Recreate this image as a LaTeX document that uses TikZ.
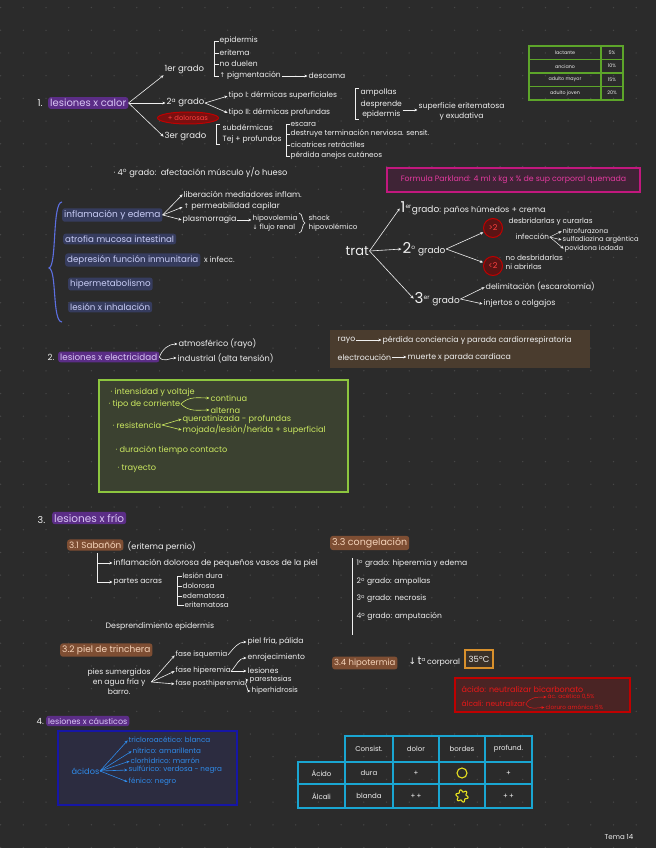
\documentclass[tikz,border=0pt]{standalone}
\usepackage{fontspec}
\setmainfont{Poppins}
\newfontfamily\symf{DejaVu Sans}
\usetikzlibrary{arrows.meta,shapes.geometric,calc}
\newcommand\fsz[1]{\fontsize{#1}{\fpeval{1.3*#1}}\selectfont}
\definecolor{bg}{HTML}{2B2B2B}
\definecolor{dotc}{HTML}{474747}
\definecolor{ink}{HTML}{F0F0F0}
\definecolor{hpfill}{HTML}{5B2D86}
\definecolor{hptext}{HTML}{D9C6F4}
\definecolor{hnfill}{HTML}{363C5E}
\definecolor{hntext}{HTML}{C9CDF6}
\definecolor{hbfill}{HTML}{7E4E33}
\definecolor{hbtext}{HTML}{F5D3B9}
\definecolor{braceblue}{HTML}{5C6FE0}
\definecolor{pkline}{HTML}{C2187E}
\definecolor{pkfill}{HTML}{3F2436}
\definecolor{pktext}{HTML}{E43AA0}
\definecolor{rline}{HTML}{C00000}
\definecolor{rfill}{HTML}{4A2424}
\definecolor{rtext}{HTML}{E81818}
\definecolor{elfill}{HTML}{7A1010}
\definecolor{eltext}{HTML}{FF4040}
\definecolor{cfill}{HTML}{5A1414}
\definecolor{brbox}{HTML}{4A3C2E}
\definecolor{gline}{HTML}{8DC63F}
\definecolor{gfill}{HTML}{3B4130}
\definecolor{gtext}{HTML}{CBE860}
\definecolor{tline}{HTML}{5DA52A}
\definecolor{bline}{HTML}{1616A6}
\definecolor{bfill}{HTML}{2C2C40}
\definecolor{btext}{HTML}{2F8BEA}
\definecolor{cyanl}{HTML}{1AA6D2}
\definecolor{yel}{HTML}{E6E020}
\definecolor{orl}{HTML}{D8902C}
\definecolor{orfill}{HTML}{3A3128}
\tikzset{
 tx/.style={anchor=west, inner sep=0.5pt, text=ink, font=\fsz{7.6}},
 txs/.style={tx, font=\fsz{6.8}},
 hp/.style={tx, fill=hpfill, text=hptext, rounded corners=2.5pt, inner xsep=2pt, inner ysep=2pt, font=\fsz{9}},
 hn/.style={hp, fill=hnfill, text=hntext, font=\fsz{8.7}},
 hb/.style={hp, fill=hbfill, text=hbtext, font=\fsz{9}},
 arr/.style={-{Stealth[length=3.2pt,width=2.8pt]}, draw=ink, line width=0.6pt, shorten >=0.5pt},
 ln/.style={draw=ink, line width=0.6pt},
 gt/.style={tx, text=gtext, font=\fsz{8.2}},
 bt/.style={tx, text=btext, font=\fsz{7.2}},
 rt/.style={tx, text=rtext, font=\fsz{8}},
 cell/.style={draw=cyanl, line width=1.1pt, inner sep=0, font=\fsz{7}, text=ink},
 gcell/.style={draw=tline, line width=1.1pt, inner sep=0, minimum height=13.5pt, font=\fsz{4.8}, text=ink},
}
\begin{document}
\begin{tikzpicture}[x=1pt,y=-1pt]
\fill[bg] (0,0) rectangle (656,848);
\useasboundingbox (0,0) rectangle (656,848);
\foreach \i in {0,...,28} \foreach \j in {0,...,37} \fill[dotc] ({0.6+22.7*\i},{7.6+22.7*\j}) circle[radius=0.75pt];

% ---------- 1. lesiones x calor
\node[tx, font=\fsz{9.5}] (n1) at (37,103) {1.};
\node[hp, font=\fsz{10}] (lc) at (48,103) {lesiones x calor};
\node[tx, font=\fsz{8.5}] (g1) at (164,70) {1er grado};
\node[tx, font=\fsz{8.5}] (g2) at (166,103) {2\textsuperscript{a} grado};
\node[tx, font=\fsz{8.5}] (g3) at (164,137) {3er grado};
\draw[arr] (lc.east) -- (g1.south west);
\draw[arr] (lc.east) -- (g2.west);
\draw[arr] (lc.east) -- (g3.west);
\node[ellipse, draw=rline, line width=1pt, fill=elfill, text=eltext, minimum width=61pt, minimum height=12pt, inner sep=0, font=\fsz{6.8}] (dol) at (188,118) {+ dolorosas};

\node[tx] (a1) at (219,41) {epidermis};
\node[tx] (a2) at (219,53) {eritema};
\node[tx] (a3) at (219,64) {no duelen};
\node[tx] (a4) at (219,76) {{\symf\fsz{6.5}↑} pigmentación};
\node[tx] (a5) at (308,76) {descama};
\draw[arr] (a4.east) -- (a5.west);
\draw[ln] (a1.west) -- ++(-5,0) |- (a4.west);
\draw[ln] (a2.west) -- ++(-5,0);
\draw[ln] (a3.west) -- ++(-5,0);

\node[tx] (t1) at (228,96) {tipo I: dérmicas superficiales};
\node[tx] (t2) at (228,113) {tipo II: dérmicas profundas};
\draw[arr] (g2.east) -- (t1.west);
\draw[arr] (g2.east) -- (t2.west);
\node[tx] (amp) at (360,93) {ampollas};
\node[tx, align=center] (dep) at (360,110) {desprende\\epidermis};
\draw[ln] ($(amp.north west)+(-1,0)$) -- ++(-4,0) |- ($(dep.south west)+(-1,0)$);
\node[tx, align=center] (sup) at (418,112) {superficie eritematosa\\y exudativa};
\draw[arr] (dep.east) -- (dep.east -| sup.west);

\node[tx] (s1) at (222,128) {subdérmicas};
\node[tx] (s2) at (222,140) {Tej + profundos};
\draw[ln] ($(s1.north west)+(-2,0)$) -- ++(-4,0) -- ($(s2.south west)+(-6,0)$) -- ++(4,0);
\node[tx, font=\fsz{7.3}] (e1) at (290,124) {escara};
\node[tx, font=\fsz{7.3}] (e2) at (290,134) {destruye terminación nerviosa. sensit.};
\node[tx, font=\fsz{7.3}] (e3) at (290,145) {cicatrices retráctiles};
\node[tx, font=\fsz{7.3}] (e4) at (290,156) {pérdida anejos cutáneos};
\draw[ln] (e1.west) -- ++(-4,0) |- (e4.west);
\draw[ln] (e2.west) -- ++(-4,0);
\draw[ln] (e3.west) -- ++(-4,0);

\node[tx, font=\fsz{8.3}] (g4) at (113,173) {· 4\textsuperscript{o} grado:\ \ afectación músculo y/o hueso};

\node[draw=pkline, line width=1.1pt, fill=pkfill, text=pktext, minimum width=253pt, minimum height=24pt, font=\fsz{7.8}] (park) at (513.5,180) {Formula Parkland: 4 ml x kg x \% de sup corporal quemada};

% ---------- systemic effects
\node[hn, font=\fsz{9}] (i1) at (62,215) {inflamación y edema};
\node[hn] (i2) at (63,239) {atrofia mucosa intestinal};
\node[hn] (i3) at (65,260) {depresión función inmunitaria};
\node[tx] (i3b) at ($(i3.east)+(3,0)$) {x infecc.};
\node[hn] (i4) at (68,284) {hipermetabolismo};
\node[hn] (i5) at (68,307) {lesión x inhalación};
\draw[braceblue, line width=1.1pt] (62,202) .. controls (52,202) and (57,266) .. (49,268) .. controls (57,270) and (52,322) .. (62,322);
\node[tx, font=\fsz{7.9}] (f1) at (183,194) {liberación mediadores inflam.};
\node[tx, font=\fsz{7.9}] (f2) at (183,207) {{\symf\fsz{6.5}↑} permeabilidad capilar};
\node[tx, font=\fsz{7.9}] (f3) at (182,220) {plasmorragia};
\draw[arr] (i1.east) -- (f1.west);
\draw[arr] (i1.east) -- (f2.west);
\draw[arr] (i1.east) -- (f3.west);
\node[tx, align=left, font=\fsz{7.2}] (hv) at (252,223) {hipovolemia\\{\symf\fsz{6}↓} flujo renal};
\draw[arr] (f3.east) -- (f3.east -| hv.west);
\draw[ln] (299,213) .. controls (303,213) and (302,223) .. (305,223) .. controls (302,223) and (303,233) .. (299,233);
\node[tx, align=left, font=\fsz{7.2}] (sh) at (308,223) {shock\\hipovolémico};

% ---------- trat
\node[tx, font=\fsz{13}] (trat) at (345,251) {trat};
\node[tx, font=\fsz{9}] (tg1) at (400,208) {{\fsz{15}1}\textsuperscript{er}grado{\fsz{8}: paños húmedos + crema}};
\node[tx, font=\fsz{9}] (tg2) at (402,249) {{\fsz{15}2}\textsuperscript{o} grado};
\node[tx, font=\fsz{9}] (tg3) at (414,299) {{\fsz{15}3}\textsuperscript{er} grado};
\draw[arr] (trat.east) -- (tg1.west);
\draw[arr] (trat.east) -- (tg2.west);
\draw[arr] (trat.east) -- (tg3.west);
\node[circle, draw=rline, line width=1pt, fill=cfill, text=eltext, minimum size=19pt, inner sep=0, font=\fsz{8}] (c1) at (493,228) {>2};
\node[circle, draw=rline, line width=1pt, fill=cfill, text=eltext, minimum size=19pt, inner sep=0, font=\fsz{8}] (c2) at (493,266) {<2};
\draw[arr] (tg2.east) -- (c1);
\draw[arr] (tg2.east) -- (c2);
\node[tx, font=\fsz{7.3}] (d1) at (508,222) {desbridarlas y curarlas};
\node[tx, font=\fsz{7.3}] (d2) at (515,237) {infección};
\node[txs] (d3) at (562,231) {nitrofurazona};
\node[txs] (d4) at (562,240) {sulfadiazina argéntica};
\node[txs] (d5) at (564,249) {povidona iodada};
\draw[arr, line width=0.5pt] (d2.east) -- (d3.west);
\draw[arr, line width=0.5pt] (d2.east) -- (d4.west);
\draw[arr, line width=0.5pt] (d2.east) -- (d5.west);
\node[tx, align=left, font=\fsz{7.3}] (nd) at (505,262) {no desbridarlas\\ni abrirlas};
\node[tx, font=\fsz{7.9}] (r1) at (485,287) {delimitación (escarotomía)};
\node[tx, font=\fsz{7.9}] (r2) at (483,304) {injertos o colgajos};
\draw[arr] (tg3.east) -- (r1.west);
\draw[arr] (tg3.east) -- (r2.west);

% ---------- 2. electricidad
\node[tx, font=\fsz{8.5}] (n2l) at (47,357) {2.};
\node[hp, font=\fsz{8.8}] (el) at (58,357) {lesiones x electricidad};
\node[tx, font=\fsz{8.2}] (atm) at (178,344) {atmosférico (rayo)};
\node[tx, font=\fsz{8.2}] (ind) at (177,358) {industrial (alta tensión)};
\draw[arr] (el.east) to[out=70,in=180] (atm.west);
\draw[arr] (el.east) to[out=-60,in=180] (ind.west);

\node[fill=brbox, minimum width=260pt, minimum height=38pt, inner sep=0] (bb) at (460,349) {};
\node[tx, font=\fsz{7.8}] (ry) at (337,340) {rayo};
\node[tx, font=\fsz{7.8}] (ry2) at (382,340) {pérdida conciencia y parada cardiorrespiratoria};
\draw[arr] (ry.east) -- (ry2.west);
\node[tx, font=\fsz{7.8}] (ec) at (337,357) {electrocución};
\node[tx, font=\fsz{7.8}] (ec2) at (407,357) {muerte x parada cardíaca};
\draw[arr] (ec.east) -- (ec2.west);

\node[draw=gline, line width=1.2pt, fill=gfill, minimum width=249pt, minimum height=112pt, inner sep=0] (gb) at (223.5,436) {};
\node[gt] (v1) at (110,392) {· intensidad y voltaje};
\node[gt] (v2) at (108,404) {· tipo de corriente};
\node[gt] (v3) at (210,398) {continua};
\node[gt] (v4) at (210,410) {alterna};
\draw[arr, draw=gtext] (v2.east) to[out=45,in=180] (v3.west);
\draw[arr, draw=gtext] (v2.east) to[out=-45,in=180] (v4.west);
\node[gt] (v5) at (112,425) {· resistencia};
\node[gt] (v6) at (182,419) {queratinizada - profundas};
\node[gt] (v7) at (182,430) {mojada/lesión/herida + superficial};
\draw[arr, draw=gtext] (v5.east) -- (v6.west);
\draw[arr, draw=gtext] (v5.east) -- (v7.west);
\node[gt] (v8) at (115,450) {· duración tiempo contacto};
\node[gt] (v9) at (117,469) {· trayecto};

% ---------- 3. frío
\node[tx, font=\fsz{9.5}] (n3) at (37,520) {3.};
\node[hp, font=\fsz{10.5}] (fr) at (52,518) {lesiones x frío};
\node[hb, font=\fsz{8.8}] (sb) at (67,545) {3.1 Sabañón};
\node[tx, font=\fsz{8.2}] (sb2) at (127,547) {(eritema pernio)};
\coordinate (sv) at (97,553);
\node[tx, font=\fsz{8}] (sb3) at (113,563) {inflamación dolorosa de pequeños vasos de la piel};
\node[tx] (sb4) at (113,582) {partes acras};
\draw[arr] (sv) |- (sb4.west);
\draw[arr] (sv |- sb3.west) -- (sb3.west);
\node[tx, font=\fsz{7.2}] (p1) at (182,576) {lesión dura};
\node[tx, font=\fsz{7.2}] (p2) at (182,586) {dolorosa};
\node[tx, font=\fsz{7.2}] (p3) at (182,596) {edematosa};
\node[tx, font=\fsz{7.2}] (p4) at (184,605) {eritematosa};
\draw[ln] (p1.west) -- ++(-5,0) -- ($(p4.west)+(-7,0)$) -- (p4.west);
\draw[ln] (p2.west) -- ++(-5,0);
\draw[ln] (p3.west) -- ++(-5,0);
\node[tx, font=\fsz{7.8}] (dsp) at (105,627) {Desprendimiento epidermis};

\node[hb] (tr) at (60,650) {3.2 piel de trinchera};
\node[tx, align=center, font=\fsz{7.6}] (pies) at (87,682) {pies sumergidos\\en agua fría y\\barro.};
\node[tx, font=\fsz{7.3}] (fi) at (175,655) {fase isquemia};
\node[tx, font=\fsz{7.3}] (fh) at (175,671) {fase hiperemia};
\node[tx, font=\fsz{7.1}] (fp) at (175,684) {fase posthiperemia};
\draw[arr] (pies.east) -- (fi.west);
\draw[arr] (pies.east) -- (fh.west);
\draw[arr] (pies.east) -- (fp.west);
\node[tx] (pf) at (247,642) {piel fría, pálida};
\draw[arr] (fi.east) to[out=50,in=180] (pf.west);
\node[tx] (en) at (247,658) {enrojecimiento};
\node[tx] (les) at (247,671) {lesiones};
\draw[arr] (fh.east) to[out=50,in=180] (en.west);
\draw[arr] (fh.east) -- (les.west);
\node[tx, font=\fsz{7.2}] (par) at (249,680) {parestesias};
\node[tx, font=\fsz{7.2}] (hh) at (251,691) {hiperhidrosis};
\draw[arr] (fp.east) to[out=40,in=180] (par.west);
\draw[arr] (fp.east) to[out=-60,in=180] (hh.west);

\node[hb, font=\fsz{9.5}] (cg) at (330,543) {3.3 congelación};
\node[tx] (k1) at (356,564) {1\textsuperscript{o} grado: hiperemia y edema};
\node[tx] (k2) at (356,582) {2\textsuperscript{o} grado: ampollas};
\node[tx] (k3) at (356,599) {3\textsuperscript{o} grado: necrosis};
\node[tx] (k4) at (356,617) {4\textsuperscript{o} grado: amputación};
\draw[ln, line width=0.8pt] (352,558) -- (352,635);

\node[hb, font=\fsz{8.5}] (hip) at (332,663) {3.4 hipotermia};
\node[tx, font=\fsz{7.8}] (tc) at (408,662) {{\symf\fsz{9}↓}\,{\fsz{11}t}\textsuperscript{a}\,corporal};
\node[draw=orl, line width=1.2pt, fill=orfill, text=ink, minimum width=28pt, minimum height=18pt, inner sep=0, font=\fsz{8.5}] (t35) at (479,659) {35ºC};

\node[draw=rline, line width=1.2pt, fill=rfill, minimum width=175pt, minimum height=34pt, inner sep=0] (rb) at (542.5,695) {};
\node[rt] (q1) at (461,689) {ácido: neutralizar bicarbonato};
\node[rt, font=\fsz{7.4}] (q2) at (461,704) {álcali: neutralizar};
\node[rt, font=\fsz{5.8}] (q3) at (547,697) {ác. acético 0,5\%};
\node[rt, font=\fsz{5.8}] (q4) at (545,707.5) {cloruro amónico 5\%};
\draw[arr, draw=rtext, line width=0.5pt] (q2.east) to[out=60,in=180] (q3.west);
\draw[arr, draw=rtext, line width=0.5pt] (q2.east) to[out=-60,in=180] (q4.west);

% ---------- 4. cáusticos
\node[tx, font=\fsz{8.5}] (n4) at (36,721) {4.};
\node[hp, font=\fsz{8}] (cs) at (46,721) {lesiones x cáusticos};
\node[draw=bline, line width=1.3pt, fill=bfill, minimum width=179pt, minimum height=74pt, inner sep=0] (bx) at (147.5,768) {};
\node[bt, font=\fsz{8.2}] (ac) at (71,771) {ácidos};
\node[bt] (b1) at (128,740) {tricloroacético: blanca};
\node[bt] (b2) at (132,751) {nítrico: amarillenta};
\node[bt] (b3) at (130,761) {clorhídrico: marrón};
\node[bt] (b4) at (128,770) {sulfúrico: verdosa - negra};
\node[bt] (b5) at (128,782) {fénico: negro};
\foreach \b in {b1,b2,b3,b4,b5} \draw[arr, draw=btext, line width=0.6pt] (ac.east) -- (\b.west);

% ---------- table
\node[cell, minimum width=48pt, minimum height=26pt] (h1) at (369,749) {Consist.};
\node[cell, minimum width=46pt, minimum height=26pt] (h2) at (416,749) {dolor};
\node[cell, minimum width=46pt, minimum height=26pt] (h3) at (462,749) {bordes};
\node[cell, minimum width=47pt, minimum height=26pt] (h4) at (508.5,749) {profund.};
\node[cell, minimum width=47pt, minimum height=22pt] (r1c0) at (321.5,773) {Ácido};
\node[cell, minimum width=48pt, minimum height=22pt] (r1c1) at (369,773) {dura};
\node[cell, minimum width=46pt, minimum height=22pt] (r1c2) at (416,773) {+};
\node[cell, minimum width=46pt, minimum height=22pt] (r1c3) at (462,773) {};
\node[cell, minimum width=47pt, minimum height=22pt] (r1c4) at (508.5,773) {+};
\node[cell, minimum width=47pt, minimum height=24pt] (r2c0) at (321.5,796) {Álcali};
\node[cell, minimum width=48pt, minimum height=24pt] (r2c1) at (369,796) {blanda};
\node[cell, minimum width=46pt, minimum height=24pt] (r2c2) at (416,796) {+\,+};
\node[cell, minimum width=46pt, minimum height=24pt] (r2c3) at (462,796) {};
\node[cell, minimum width=47pt, minimum height=24pt] (r2c4) at (508.5,796) {+\,+};
\node[circle, draw=yel, line width=1.1pt, minimum size=10pt, inner sep=0] (yc) at (r1c3) {};
\begin{scope}[shift={(r2c3)}]
\draw[yel, line width=1.1pt] plot[domain=0:352.5, samples=48, smooth cycle] ({(5.2+1.1*sin(6*\x))*cos(\x)}, {(5.2+1.1*sin(6*\x))*sin(\x)});
\end{scope}

\node[tx, font=\fsz{7}] (tema) at (604,837) {Tema 14};

% ---------- top-right table
\node[gcell, minimum width=72pt] (l1) at (565,52.75) {lactante};
\node[gcell, minimum width=22pt] (l1v) at (612,52.75) {5\%};
\node[gcell, minimum width=72pt] (l2) at (565,66.25) {anciano};
\node[gcell, minimum width=22pt] (l2v) at (612,66.25) {10\%};
\node[gcell, minimum width=72pt] (l3) at (565,79.75) {adulto mayor};
\node[gcell, minimum width=22pt] (l3v) at (612,79.75) {15\%};
\node[gcell, minimum width=72pt] (l4) at (565,93.25) {adulto joven};
\node[gcell, minimum width=22pt] (l4v) at (612,93.25) {20\%};
\end{tikzpicture}
\end{document}
